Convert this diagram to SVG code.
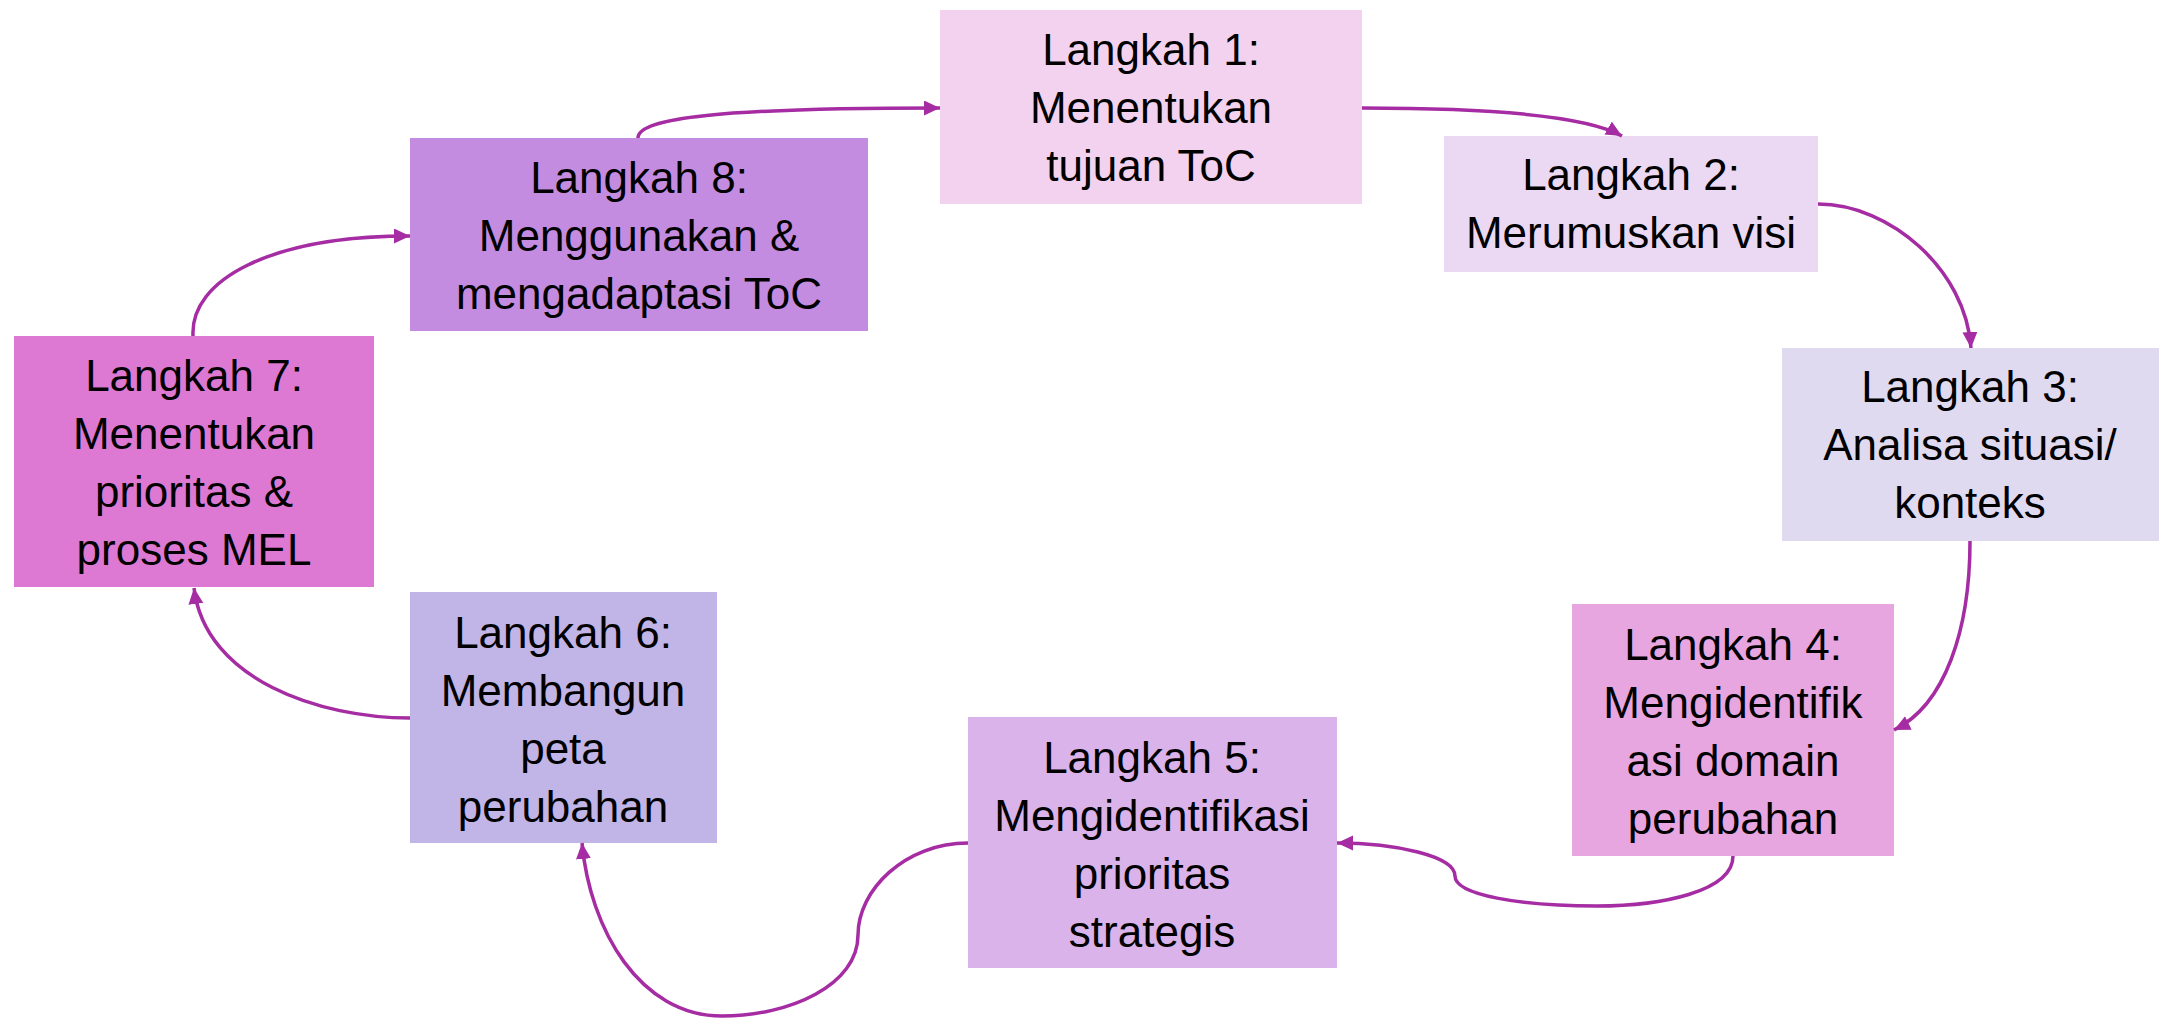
<svg xmlns="http://www.w3.org/2000/svg" width="2159" height="1018" viewBox="0 0 2159 1018">
  <style>
    .lbl { font-family: "Liberation Sans", Arial, sans-serif; font-size: 44px; fill: #000; text-anchor: middle; }
    .link { fill: none; stroke: #a52ca2; stroke-width: 3.5; marker-end: url(#head); }
  </style>
  <defs>
    <marker id="head" markerUnits="userSpaceOnUse" markerWidth="17" markerHeight="16" refX="16" refY="7.5" orient="auto">
      <path d="M0,0 L16,7.5 L0,15 z" fill="#a52ca2"/>
    </marker>
  </defs>
  <rect width="2159" height="1018" fill="#fff"/>

  <!-- steps of the ToC cycle -->
  <g id="step1">
    <rect x="940" y="10" width="422" height="194" fill="#f3d2ef"/>
    <text class="lbl" x="1151" y="65">Langkah 1:</text>
    <text class="lbl" x="1151" y="123">Menentukan</text>
    <text class="lbl" x="1151" y="181">tujuan ToC</text>
  </g>
  <g id="step2">
    <rect x="1444" y="136" width="374" height="136" fill="#ebd9f3"/>
    <text class="lbl" x="1631" y="190">Langkah 2:</text>
    <text class="lbl" x="1631" y="248">Merumuskan visi</text>
  </g>
  <g id="step3">
    <rect x="1782" y="348" width="377" height="193" fill="#e0daf1"/>
    <text class="lbl" x="1970" y="402">Langkah 3:</text>
    <text class="lbl" x="1970" y="460">Analisa situasi/</text>
    <text class="lbl" x="1970" y="518">konteks</text>
  </g>
  <g id="step4">
    <rect x="1572" y="604" width="322" height="252" fill="#e8a6e1"/>
    <text class="lbl" x="1733" y="660">Langkah 4:</text>
    <text class="lbl" x="1733" y="718">Mengidentifik</text>
    <text class="lbl" x="1733" y="776">asi domain</text>
    <text class="lbl" x="1733" y="834">perubahan</text>
  </g>
  <g id="step5">
    <rect x="968" y="717" width="369" height="251" fill="#d9b3ea"/>
    <text class="lbl" x="1152" y="773">Langkah 5:</text>
    <text class="lbl" x="1152" y="831">Mengidentifikasi</text>
    <text class="lbl" x="1152" y="889">prioritas</text>
    <text class="lbl" x="1152" y="947">strategis</text>
  </g>
  <g id="step6">
    <rect x="410" y="592" width="307" height="251" fill="#c1b4e6"/>
    <text class="lbl" x="563" y="648">Langkah 6:</text>
    <text class="lbl" x="563" y="706">Membangun</text>
    <text class="lbl" x="563" y="764">peta</text>
    <text class="lbl" x="563" y="822">perubahan</text>
  </g>
  <g id="step7">
    <rect x="14" y="336" width="360" height="251" fill="#dd79d3"/>
    <text class="lbl" x="194" y="391">Langkah 7:</text>
    <text class="lbl" x="194" y="449">Menentukan</text>
    <text class="lbl" x="194" y="507">prioritas &amp;</text>
    <text class="lbl" x="194" y="565">proses MEL</text>
  </g>
  <g id="step8">
    <rect x="410" y="138" width="458" height="193" fill="#c48ce0"/>
    <text class="lbl" x="639" y="193">Langkah 8:</text>
    <text class="lbl" x="639" y="251">Menggunakan &amp;</text>
    <text class="lbl" x="639" y="309">mengadaptasi ToC</text>
  </g>

  <!-- curved arrows between consecutive steps -->
  <g id="connectors">
    <path class="link" d="M1362,108 C1480,108 1585,115 1622,136"/>
    <path class="link" d="M1818,204 C1890,204 1966,270 1971,348"/>
    <path class="link" d="M1970,541 C1970,630 1945,705 1894,730"/>
    <path class="link" d="M1733,856 C1733,892 1660,906 1597,906 C1520,906 1455,895 1455,876 C1455,856 1395,843 1337,843"/>
    <path class="link" d="M968,843 C905,843 858,890 858,935 C858,985 790,1016 722,1016 C640,1016 590,930 582,843"/>
    <path class="link" d="M410,718 C320,718 205,680 194,588"/>
    <path class="link" d="M193,336 C190,280 270,236 410,236"/>
    <path class="link" d="M638,138 C638,118 720,108 940,108"/>
  </g>
</svg>
